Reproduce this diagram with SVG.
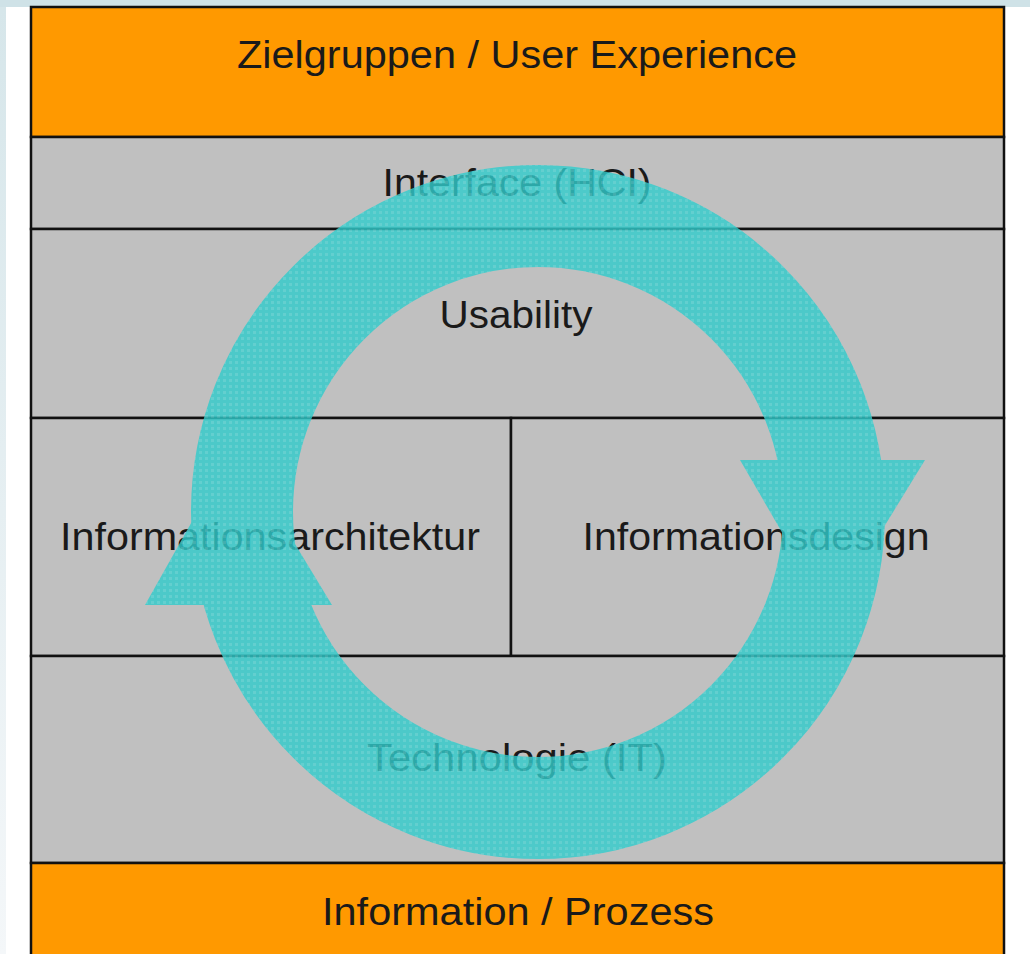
<svg xmlns="http://www.w3.org/2000/svg" width="1030" height="954" viewBox="0 0 1030 954">
  <defs>
    <linearGradient id="edgeFade" x1="0" y1="0" x2="0" y2="1">
      <stop offset="0" stop-color="#d6e6ea"/>
      <stop offset="1" stop-color="#f4f7f9"/>
    </linearGradient>
    <pattern id="ringTex" width="6" height="6" patternUnits="userSpaceOnUse">
      <rect width="6" height="6" fill="#30cccc"/>
      <rect x="1" y="1" width="3" height="3" fill="#4cd3d3"/>
    </pattern>
  </defs>
  <style>
    .band { stroke: #111; stroke-width: 2.5; }
    .orange { fill: #ff9900; }
    .gray { fill: #c0c0c0; }
    .lbl { font-family: "Liberation Sans", Arial, sans-serif; font-size: 38px; fill: #1a1a1a; }
    .ring { fill: none; stroke: url(#ringTex); stroke-width: 102; }
    .head { fill: url(#ringTex); }
  </style>

  <!-- page surroundings -->
  <rect x="0" y="0" width="1030" height="954" fill="#ffffff"/>
  <rect x="0" y="0" width="1030" height="7" fill="#cfe2e7"/>
  <rect x="0" y="7" width="6" height="947" fill="url(#edgeFade)"/>

  <!-- layer bands -->
  <g id="zielgruppen">
    <rect class="band orange" x="31" y="7" width="973" height="130"/>
    <text class="lbl" x="517" y="68" text-anchor="middle" textLength="560" lengthAdjust="spacingAndGlyphs">Zielgruppen / User Experience</text>
  </g>
  <g id="interface">
    <rect class="band gray" x="31" y="137" width="973" height="92"/>
    <text class="lbl" x="517" y="196" text-anchor="middle" textLength="269" lengthAdjust="spacingAndGlyphs">Interface (HCI)</text>
  </g>
  <g id="usability">
    <rect class="band gray" x="31" y="229" width="973" height="189"/>
    <text class="lbl" x="516" y="328" text-anchor="middle" textLength="153" lengthAdjust="spacingAndGlyphs">Usability</text>
  </g>
  <g id="informationsarchitektur">
    <rect class="band gray" x="31" y="418" width="480" height="238"/>
    <text class="lbl" x="270" y="550" text-anchor="middle" textLength="420" lengthAdjust="spacingAndGlyphs">Informationsarchitektur</text>
  </g>
  <g id="informationsdesign">
    <rect class="band gray" x="511" y="418" width="493" height="238"/>
    <text class="lbl" x="756" y="550" text-anchor="middle" textLength="347" lengthAdjust="spacingAndGlyphs">Informationsdesign</text>
  </g>
  <g id="technologie">
    <rect class="band gray" x="31" y="656" width="973" height="207"/>
    <text class="lbl" x="517" y="771" text-anchor="middle" textLength="300" lengthAdjust="spacingAndGlyphs">Technologie (IT)</text>
  </g>
  <g id="information-prozess">
    <rect class="band orange" x="31" y="863" width="973" height="95"/>
    <text class="lbl" x="518" y="925" text-anchor="middle" textLength="392" lengthAdjust="spacingAndGlyphs">Information / Prozess</text>
  </g>

  <!-- cycle: ring with two arrowheads, translucent as one layer -->
  <g id="connectors" opacity="0.8">
    <circle class="ring" cx="538" cy="512" r="296"/>
    <polygon class="head" points="235,445 332,605 145,605"/>
    <polygon class="head" points="740,460 925,460 830,615"/>
  </g>
</svg>
